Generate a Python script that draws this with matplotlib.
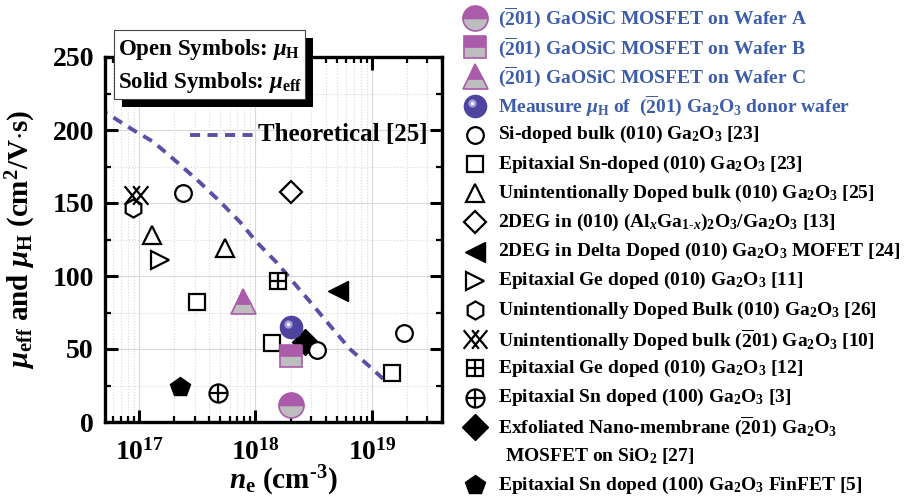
import numpy as np
import matplotlib
matplotlib.use("Agg")
import matplotlib.pyplot as plt
from matplotlib.path import Path
from matplotlib.patches import Rectangle
from matplotlib.transforms import offset_copy

plt.rcParams["font.family"] = "Liberation Serif"
plt.rcParams["font.weight"] = "bold"
plt.rcParams["axes.labelweight"] = "bold"
plt.rcParams["mathtext.fontset"] = "custom"
plt.rcParams["mathtext.rm"] = "Liberation Serif:bold"
plt.rcParams["mathtext.it"] = "Liberation Serif:bold:italic"
plt.rcParams["mathtext.bf"] = "Liberation Serif:bold"

# -----------------------------------------------------------
# data (n_e in cm^-3, mobility in cm^2/V.s)
# -----------------------------------------------------------
theory_n = [4.5e16, 8.9e16, 1.32e17, 2.12e17, 3.34e17, 4.95e17, 7.36e17, 1.03e18,
            1.53e18, 2.1e18, 3.12e18, 4.37e18, 6.47e18, 1.02e19, 1.35e19]
theory_mu = [215, 200, 192, 178, 164, 151, 137, 123, 109, 96, 80, 66, 50, 36, 27]

waferA_n, waferA_mu = [2.0e18], [11.5]
waferB_n, waferB_mu = [2.0e18], [45]
waferC_n, waferC_mu = [7.8e17], [83]
donor_n, donor_mu = [2.0e18], [65]
si_bulk_n, si_bulk_mu = [2.4e17, 3.4e18, 1.9e19], [157, 49, 61]
sn_epi_n, sn_epi_mu = [3.15e17, 1.4e18, 1.5e19], [82, 54, 33.5]
uid25_n, uid25_mu = [1.3e17, 5.5e17], [128, 119]
twodeg_n, twodeg_mu = [2.0e18], [157.5]
delta_n, delta_mu = [5.1e18], [90]
ge11_n, ge11_mu = [1.5e17], [111]
uid26_n, uid26_mu = [8.9e16], [146.5]
uid10_n, uid10_mu = [9.4e16], [155.5]
ge12_n, ge12_mu = [1.56e18], [96.5]
sn3_n, sn3_mu = [4.76e17], [20]
exf_n, exf_mu = [2.66e18], [55]
fin_n, fin_mu = [2.25e17], [24]

labels = [
    r"($\overline{2}$01) GaOSiC MOSFET on Wafer A",
    r"($\overline{2}$01) GaOSiC MOSFET on Wafer B",
    r"($\overline{2}$01) GaOSiC MOSFET on Wafer C",
    r"Meausure $\mu_{\rm H}$ of  ($\overline{2}$01) Ga$_2$O$_3$ donor wafer",
    r"Si-doped bulk (010) Ga$_2$O$_3$ [23]",
    r"Epitaxial Sn-doped (010) Ga$_2$O$_3$ [23]",
    r"Unintentionally Doped bulk (010) Ga$_2$O$_3$ [25]",
    r"2DEG in (010) (Al$_x$Ga$_{1\text{-}x}$)$_2$O$_3$/Ga$_2$O$_3$ [13]",
    r"2DEG in Delta Doped (010) Ga$_2$O$_3$ MOFET [24]",
    r"Epitaxial Ge doped (010) Ga$_2$O$_3$ [11]",
    r"Unintentionally Doped Bulk (010) Ga$_2$O$_3$ [26]",
    r"Unintentionally Doped bulk ($\overline{2}$01) Ga$_2$O$_3$ [10]",
    r"Epitaxial Ge doped (010) Ga$_2$O$_3$ [12]",
    r"Epitaxial Sn doped (100) Ga$_2$O$_3$ [3]",
    r"Exfoliated Nano-membrane ($\overline{2}$01) Ga$_2$O$_3$",
    r"Epitaxial Sn doped (100) Ga$_2$O$_3$ FinFET [5]",
]
label_cont = r"MOSFET on SiO$_2$ [27]"

# -----------------------------------------------------------
# styles
# -----------------------------------------------------------
PURPLE = "#AA5BAA"
GRAY = "#BDBDBD"
BALL = "#4E44A0"
BLUE_TXT = "#3D5DAA"
LINE = "#5A50A8"

xx_path = Path(
    [(-0.7, -0.55), (0.2, 0.55), (-0.7, 0.55), (0.2, -0.55),
     (-0.2, -0.55), (0.7, 0.55), (-0.2, 0.55), (0.7, -0.55)],
    [Path.MOVETO, Path.LINETO] * 4,
)

half = dict(fillstyle="top", mfc=PURPLE, mfcalt=GRAY, mec=PURPLE, mew=1.2)
opn = dict(mfc="white", mec="black", mew=1.6)
sld = dict(mfc="black", mec="black", mew=1.0)

# each entry: list of marker layers
series = [
    (waferA_n, waferA_mu, [dict(marker="o", ms=18, **half)]),
    (waferB_n, waferB_mu, [dict(marker="s", ms=15.5, **half)]),
    (waferC_n, waferC_mu, [dict(marker="^", ms=18, **half)]),
    (donor_n, donor_mu, [dict(marker="o", ms=17, mfc=BALL, mec=BALL, mew=0)]),
    (si_bulk_n, si_bulk_mu, [dict(marker="o", ms=12, **opn)]),
    (sn_epi_n, sn_epi_mu, [dict(marker="s", ms=11, **opn)]),
    (uid25_n, uid25_mu, [dict(marker="^", ms=13, **opn)]),
    (twodeg_n, twodeg_mu, [dict(marker="D", ms=11, **opn)]),
    (delta_n, delta_mu, [dict(marker="<", ms=14, **sld)]),
    (ge11_n, ge11_mu, [dict(marker=">", ms=13, **opn)]),
    (uid26_n, uid26_mu, [dict(marker="h", ms=13, **opn)]),
    (uid10_n, uid10_mu, [dict(marker=xx_path, ms=17, mfc="none", mec="black", mew=1.6)]),
    (ge12_n, ge12_mu, [dict(marker="s", ms=11, **opn),
                       dict(marker="+", ms=11, mec="black", mew=1.6)]),
    (sn3_n, sn3_mu, [dict(marker="o", ms=13, **opn),
                     dict(marker="+", ms=13, mec="black", mew=1.6)]),
    (exf_n, exf_mu, [dict(marker="D", ms=13, **sld)]),
    (fin_n, fin_mu, [dict(marker="p", ms=15, **sld)]),
]
draw_order = [14, 6, 7, 8, 9, 10, 11, 12, 13, 15, 3, 4, 5, 2, 1, 0]

# -----------------------------------------------------------
# plotting
# -----------------------------------------------------------
fig = plt.figure(figsize=(9.1, 4.99), dpi=100)
ax = fig.add_axes([105 / 910, 77 / 499, 337 / 910, 365 / 499])

ax.plot(theory_n, theory_mu, ls=(0, (2.6, 1.9)), lw=2.8, color=LINE, zorder=2)

for k in draw_order:
    xs, ys, layers = series[k]
    for st in layers:
        ax.plot(xs, ys, ls="none", zorder=3, **st)
    if k == 3:
        hl = offset_copy(ax.transData, fig=fig, x=-3, y=3, units="dots")
        ax.plot(xs, ys, ls="none", marker="o", ms=6, mfc="#B9B2E6", mec="none",
                alpha=0.8, transform=hl, zorder=4)
        ax.plot(xs, ys, ls="none", marker="o", ms=2.5, mfc="white", mec="none",
                transform=hl, zorder=4)

ax.set_xscale("log")
ax.set_xlim(5.1e16, 4.0e19)
ax.set_ylim(0, 250)
ax.set_xticks([1e17, 1e18, 1e19], [r"10$^{17}$", r"10$^{18}$", r"10$^{19}$"])
ax.set_yticks([0, 50, 100, 150, 200, 250])
ax.set_yticks([25, 75, 125, 175, 225], minor=True)
ax.tick_params(which="both", direction="in", top=True, right=True, labelsize=20)
ax.tick_params(which="major", length=9, width=2.2, pad=8)
ax.tick_params(which="minor", length=4.5, width=1.6)
ax.tick_params(axis="x", which="major", pad=12)
for s in ax.spines.values():
    s.set_linewidth(2.4)
ax.grid(True, which="major", color="#d9d9d9", lw=0.8, ls="-", zorder=0)
ax.grid(True, which="minor", color="#d9d9d9", lw=0.8, ls=":", zorder=0)
ax.set_axisbelow(True)

ax.set_ylabel(r"$\mu_{\rm eff}$ and $\mu_{\rm H}$ (cm$^2$/V$\cdot$s)", fontsize=21,
              fontweight="bold")
ax.yaxis.set_label_coords(-0.2, 0.5)
ax.set_xlabel(r"$n_{\rm e}$ (cm$^{\text{-}3}$)", fontsize=21, fontweight="bold")
ax.xaxis.set_label_coords(0.53, -0.115)

# overlay axes in pixel coordinates for legend and boxes
lax = fig.add_axes([0, 0, 1, 1])
lax.set_xlim(0, 910)
lax.set_ylim(499, 0)
lax.axis("off")

# theoretical curve legend
lax.plot([190, 253], [135, 135], ls=(0, (2.6, 1.9)), lw=2.8, color=LINE)
lax.text(258, 135, "Theoretical [25]", fontsize=18, fontweight="bold",
         va="center", ha="left")

# open/solid symbols box with shadow
lax.add_patch(Rectangle((122, 38), 191, 69, facecolor="black", edgecolor="none"))
lax.add_patch(Rectangle((114, 30), 191, 69, facecolor="white", edgecolor="#444444", lw=0.8))
lax.text(118, 49, r"Open Symbols: $\mu_{\rm H}$", fontsize=16.5, fontweight="bold",
         va="center", ha="left")
lax.text(118, 82, r"Solid Symbols: $\mu_{\rm eff}$", fontsize=16.5, fontweight="bold",
         va="center", ha="left")

# legend
row0, drow = 18, 29.2
mx, tx = 475, 498
rows = list(range(15)) + [16]
for k, (i, lab) in enumerate(zip(rows, labels)):
    y = row0 + drow * i
    for st in series[k][2]:
        lax.plot([mx], [y], ls="none", **st)
    if k == 3:
        hl = offset_copy(lax.transData, fig=fig, x=-3, y=3, units="dots")
        lax.plot([mx], [y], ls="none", marker="o", ms=6, mfc="#B9B2E6", mec="none",
                 alpha=0.8, transform=hl)
        lax.plot([mx], [y], ls="none", marker="o", ms=2.5, mfc="white", mec="none",
                 transform=hl)
    lax.text(tx, y, lab, fontsize=14, fontweight="bold", va="center", ha="left",
             color=BLUE_TXT if k < 4 else "black")
lax.text(tx + 7, row0 + drow * 15, label_cont, fontsize=14, fontweight="bold",
         va="center", ha="left")

fig.savefig("out.png", dpi=100)
